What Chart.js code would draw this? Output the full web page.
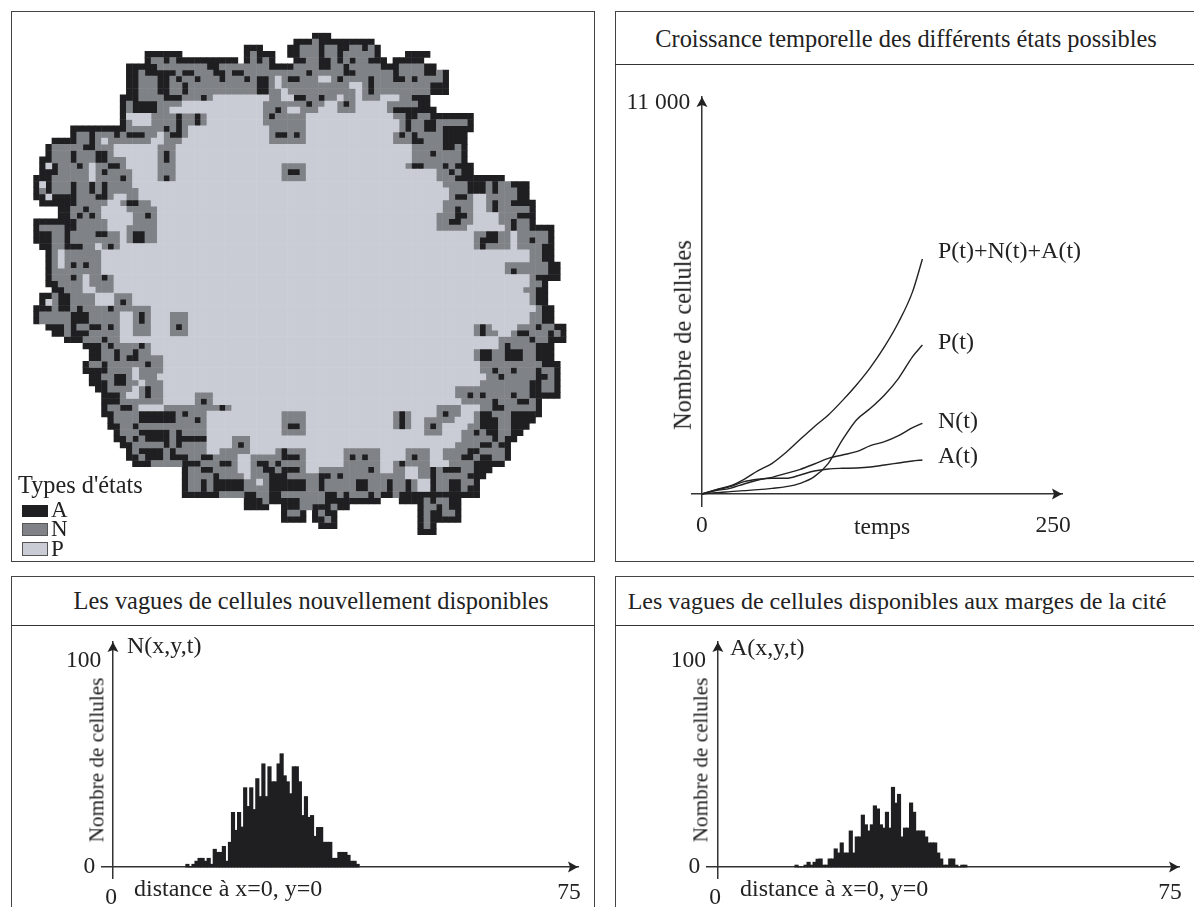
<!DOCTYPE html>
<html lang="fr">
<head>
<meta charset="utf-8">
<title>Croissance de la cité</title>
<script src="https://cdn.jsdelivr.net/npm/chart.js@4"></script>
<style>
  html, body { margin: 0; background: #fff; }
  body { position: relative; width: 1194px; height: 907px; overflow: hidden;
         font-family: "Liberation Serif", serif; color: #222; }
  .panel { position: absolute; box-sizing: border-box; border: 1.4px solid #444; }
  .rule { position: absolute; height: 0; border-top: 1.4px solid #333; }
  canvas { position: absolute; }
  .txt { position: absolute; white-space: nowrap; line-height: 1; transform: translateY(-50%); font-size: 24px; }
  .mid { transform: translate(-50%, -50%); }
  .up { transform: translate(-50%, -50%) rotate(-90deg); }
  .swatch { position: absolute; box-sizing: border-box; width: 26px; }
</style>
</head>
<body>

<div class="panel" style="left:11px;top:11px;width:584px;height:551px"></div>
<div class="panel" style="left:615px;top:11px;width:600px;height:551px"></div>
<div class="rule" style="left:615px;top:64px;width:579px"></div>
<div class="panel" style="left:11px;top:576px;width:584px;height:360px"></div>
<div class="rule" style="left:11px;top:625px;width:584px"></div>
<div class="panel" style="left:615px;top:576px;width:600px;height:360px"></div>
<div class="rule" style="left:615px;top:625px;width:579px"></div>

<canvas id="carte" width="560" height="530" style="left:20px;top:20px"></canvas>
<canvas id="croissance" width="579" height="497" style="left:615px;top:64px"></canvas>
<canvas id="vagueN" width="584" height="282" style="left:11px;top:625px"></canvas>
<canvas id="vagueA" width="579" height="282" style="left:615px;top:625px"></canvas>

<div class="txt mid" style="left:906px;top:39px;font-size:24.4px">Croissance temporelle des différents états possibles</div>
<div class="txt mid" style="left:311px;top:601px;font-size:24.4px">Les vagues de cellules nouvellement disponibles</div>
<div class="txt mid" style="left:897px;top:601px;font-size:24px">Les vagues de cellules disponibles aux marges de la cité</div>

<div class="txt" style="left:18px;top:485px;font-size:24.3px">Types d'états</div>
<div class="swatch" style="left:22px;top:505px;height:12px;background:#1f1f21"></div>
<div class="swatch" style="left:22px;top:523px;height:13px;background:#7f8286;border:1px solid #555"></div>
<div class="swatch" style="left:22px;top:542px;height:14px;background:#c9ccd4;border:1px solid #555"></div>
<div class="txt" style="left:51px;top:509px;font-size:23px">A</div>
<div class="txt" style="left:51px;top:528px;font-size:23px">N</div>
<div class="txt" style="left:51px;top:548px;font-size:23px">P</div>

<div class="txt up" style="left:683px;top:335px;font-size:24.4px">Nombre de cellules</div>
<div class="txt mid" style="left:882px;top:527px;font-size:23.5px">temps</div>
<div class="txt" style="left:938px;top:250px">P(t)+N(t)+A(t)</div>
<div class="txt" style="left:938px;top:341px">P(t)</div>
<div class="txt" style="left:938px;top:420px">N(t)</div>
<div class="txt" style="left:938px;top:455px">A(t)</div>

<div class="txt up" style="left:97px;top:760px;font-size:21.2px">Nombre de cellules</div>
<div class="txt" style="left:127px;top:645px">N(x,y,t)</div>
<div class="txt" style="left:134px;top:888px">distance à x=0, y=0</div>
<div class="txt mid" style="left:111px;top:897px;font-size:23.5px">0</div>

<div class="txt up" style="left:701px;top:760px;font-size:21.2px">Nombre de cellules</div>
<div class="txt" style="left:730px;top:647px">A(x,y,t)</div>
<div class="txt" style="left:740px;top:888px">distance à x=0, y=0</div>
<div class="txt mid" style="left:715px;top:897px;font-size:23.5px">0</div>

<script>
"use strict";

// carte : une ligne par rangée, "12A" = à partir de la colonne 12 état A ("." = vide)
const mapRows = [
  "45A 48.",
  "42A 45N 46A 55.",
  "34A 37. 41A 43N 46A 47N 49A 51N 53A 54N 55A 56.",
  "18A 24. 34A 35N 36A 39. 41A 43N 46A 47N 49A 50N 54N 55A 56. 60A 64.",
  "18A 19N 21A 22N 23A 33. 34A 35N 36A 37N 38A 39. 42A 44N 46A 48N 49A 50N 51A 52N 54A 57. 58A 63.",
  "15A 20N 28A 30N 38A 42N 46A 48N 50A 51N 56A 59N 63A 65.",
  "15A 17N 18A 23N 24A 26N 29A 31N 32A 34N 44A 45N 50A 52N 58A 59N 63A 65N 66A 67.",
  "15A 17N 20A 22N 23A 24N 26A 27N 30A 31N 34A 35N 36A 38N 39P 40N 41A 43N 46P 48N 49A 50N 54A 55N 58A 60N 61A 62N 66A 67.",
  "15A 17N 20A 22N 24A 25N 36A 38N 39P 40N 51P 53N 54A 55N 64A 67.",
  "15A 17N 20A 22N 24A 25N 36A 38N 40P 41N 52P 53N 54A 55N 64A 67.",
  "14A 17N 21A 24N 27A 28N 29P 38N 40P 42A 44N 46A 47N 49P 50N 52P 53N 56P 59N 61A 64.",
  "14A 15N 16A 20N 24P 37N 44A 45N 47P 49N 50A 51N 52P 57N 62A 64.",
  "14A 15N 16A 20N 22P 37N 39A 40N 41P 43N 46P 49N 52P 57N 58A 65.",
  "14A 15P 19N 23A 24N 26A 27N 28P 37N 38A 39N 44P 58N 60A 62N 64A 71.",
  "14A 15N 16P 19N 23A 24N 26A 27N 28P 37N 44P 59N 60A 61N 63A 65N 70A 71.",
  "6A 15N 21A 22N 23A 24N 25P 38N 44P 59N 60A 61N 63A 65N 66A 71.",
  "6A 7N 9A 10N 13A 14N 15A 18N 20P 21N 22A 24N 25P 38N 39A 41N 42A 43N 44P 58N 59A 60N 61A 62N 66A 70.",
  "3A 7N 9A 10N 11P 12N 19P 21N 24P 38N 44P 58N 61A 63N 66A 70.",
  "2A 3N 8A 10N 13P 20N 23P 61N 66A 68N 69A 70.",
  "2A 3N 6A 7N 10A 12N 13P 20N 21A 22N 23P 61N 64A 65N 69A 70.",
  "1A 3N 6A 7N 10A 12N 15P 20N 21A 22N 23P 61N 69A 70.",
  "1A 2P 3A 4N 7A 8N 9P 10N 12A 14N 15P 20N 23P 40N 44P 60N 61A 63N 66A 67N 68A 71.",
  "1A 4N 9P 10N 11A 12N 16P 20N 23P 40N 41A 43N 44P 65N 67A 68N 69A 71.",
  "0A 3N 9P 10N 14A 15N 16P 20N 21A 22N 23P 40N 44P 65N 68A 76.",
  "0A 1P 2A 3N 6A 7N 9A 10N 11A 12N 16P 66N 70A 73N 74A 75N 77A 80.",
  "0A 1N 2A 3N 6A 7N 9A 10N 11A 12N 17P 67N 70A 73N 74A 75N 78A 80.",
  "0A 2P 3A 7N 10A 12N 13P 15N 17P 67N 68A 70N 71P 73N 78A 80.",
  "1A 7N 12P 14N 15A 17N 19P 66N 71P 73N 74A 75N 77A 81.",
  "4A 6N 8A 9N 11P 15N 20P 66N 68A 69N 71P 73N 74A 75N 80A 81.",
  "4A 6N 7A 8N 9A 10N 11P 16N 18A 19N 20P 65N 68A 70N 71P 75N 78A 81.",
  "0A 7N 12P 16N 20P 65N 67A 69N 71P 75N 77A 78N 80A 81.",
  "0A 1N 5A 7N 12P 15N 20P 65N 70P 76N 77A 78N 80A 84.",
  "0A 3N 5A 6N 10A 12N 14P 15N 16A 18N 20P 71N 73A 75N 77P 78N 83A 84.",
  "0A 3N 5A 6N 14P 15N 16A 18N 20P 71N 72A 75N 77P 78N 80A 81N 83A 84.",
  "1A 3N 5A 8N 10P 11N 12A 13N 14P 71N 72A 73N 77P 78N 82A 84.",
  "2A 3N 4P 5N 11P 80N 82A 84.",
  "2A 3N 4P 5N 11P 80N 82A 84.",
  "2A 3N 4P 5N 6A 7N 8A 9N 11P 76N 83A 85.",
  "2A 3N 11P 76N 77A 78N 83A 85.",
  "2A 3N 6A 7N 8P 9N 11A 12N 13P 80N 81A 85.",
  "2A 4N 8P 9N 13P 80N 82A 83.",
  "3A 5N 8P 10N 13P 79N 81A 83.",
  "1A 3N 4A 6N 10P 13N 16P 80N 81A 83.",
  "1A 2P 3N 4A 6N 10P 13N 14A 15N 16P 80N 81A 83.",
  "0A 3N 4A 6N 7A 8N 12A 13N 19P 81N 82A 84.",
  "0A 1N 6A 9N 14P 16N 17A 18N 19P 22N 25P 80N 82A 84.",
  "0A 1N 6A 9N 14P 16N 17A 18N 19P 22N 25P 80N 82A 84.",
  "2A 5N 6A 7N 9A 11N 12A 13N 14P 16N 19P 22N 23A 24N 25P 71N 72A 73N 74P 78N 81A 82N 84A 86.",
  "3A 5N 6A 9N 14P 16N 19P 22N 25P 71N 72A 73N 75P 77N 78A 80N 83A 84N 85A 86.",
  "5A 8N 11A 12N 14P 75N 80A 81N 83A 86.",
  "8A 11N 12A 13N 17A 18N 19P 75N 76A 77N 81A 84.",
  "9A 11N 13A 14N 16A 17N 19P 71N 72A 74N 76A 79N 81A 84.",
  "9A 11N 13A 14N 15A 17N 21P 71N 72A 74N 76A 79N 81A 84.",
  "8A 9N 11A 12N 18A 19N 21P 72N 82A 85.",
  "8A 12N 16P 17N 21P 72N 74A 75N 77A 78N 81A 82N 84A 85.",
  "9A 11N 13A 15N 16P 17N 20P 73N 75A 76N 81A 83N 84A 85.",
  "9A 12N 13A 15N 17P 18N 21P 72N 80A 82N 84A 85.",
  "10A 12N 16P 17N 18A 19N 21P 68N 80A 82N 84A 85.",
  "11A 14N 15P 17N 18A 19N 21P 26N 29P 68N 70A 71N 72A 73N 77A 78N 80A 85.",
  "11A 14N 21P 26N 27A 28N 29P 69N 74A 75N 78A 80N 81A 82.",
  "11A 12N 14A 16N 17P 21N 30A 31N 32P 65N 69P 72N 74A 76N 81A 82.",
  "11A 13N 17A 23N 24A 25N 28P 40N 44P 58N 59A 60N 61P 65N 66A 67N 69P 71N 72A 74N 77A 82.",
  "12A 13N 17A 23N 26A 27N 28P 40N 44P 58N 59A 60N 61P 63N 68P 71N 72A 75N 77A 81.",
  "12A 14N 16A 17N 28P 40N 41A 43N 44P 58N 59A 60N 61P 63N 64A 65N 66P 70N 72A 75N 77A 80.",
  "13A 14N 17A 22N 23A 24N 28P 40N 44P 63N 66P 69N 71A 72N 73A 75N 77A 79.",
  "13A 15N 16A 17N 18A 22N 23A 28P 32N 35P 69N 74A 75N 76A 78.",
  "14A 16N 21A 22N 23A 24N 28P 32N 33A 34N 35P 68N 72A 74N 75A 77.",
  "15A 16N 17A 21N 22A 23N 28P 30N 35P 39N 40A 41N 44P 50N 56P 60N 64P 66N 70A 72N 76A 77.",
  "15A 17N 18A 21N 22A 25N 27A 29N 33P 35N 40A 43N 44P 50N 51A 52N 53A 54N 56P 60N 61A 62N 64P 66N 69A 71N 72A 74N 76A 77.",
  "16A 19N 24A 27N 30A 32N 33P 35N 36A 38N 39A 40N 44P 50N 56P 58N 59A 60N 64P 67N 71A 76.",
  "24A 25N 27A 29N 33P 35N 37A 39N 40A 43N 44P 46N 54A 55N 56P 58N 60P 62N 64A 65N 66A 69N 71A 74.",
  "24A 25N 29A 30N 34P 35N 38A 41N 46A 48N 49A 50N 60P 62N 64A 65N 70A 73.",
  "24A 25N 27A 28N 29A 34N 36P 37N 38A 44N 46A 47N 52A 54N 57A 58N 60A 61N 62P 64A 65N 67A 69N 71A 72.",
  "24A 25N 27A 28N 29A 34N 38A 44N 46A 47N 52A 54N 57A 58N 60A 61N 62P 64A 65N 67A 69N 70A 72.",
  "24A 30N 34A 36N 38A 40N 47A 49N 50A 51N 54A 55N 56A 58N 59A 72.",
  "34A 37N 38A 43N 47A 56. 59A 63N 64A 65N 67A 69.",
  "34A 38. 40A 43N 45A 48N 49A 51. 62A 63N 65A 66N 67A 69.",
  "40A 41N 43A 44. 45A 46N 47A 49. 62A 63N 64A 66N 68A 69.",
  "40A 44. 45A 47N 48A 49. 62A 63N 64A 69.",
  "46A 49. 62A 63N 64A 65.",
  "62A 65."
];

// courbes de croissance
const temps = [0, 10, 20, 30, 40, 50, 60, 70, 80, 90, 100, 110, 120, 130, 140, 150, 157];
const totalT = [0, 122, 225, 413, 656, 863, 1172, 1538, 1894, 2223, 2626, 3067, 3563, 4145, 4830, 5693, 6611];
const presT = [0, 38, 66, 94, 122, 159, 206, 300, 488, 863, 1519, 2082, 2410, 2785, 3254, 3864, 4192];
const nouvT = [0, 94, 159, 281, 394, 469, 581, 694, 844, 1003, 1097, 1191, 1360, 1472, 1641, 1866, 1988];
const dispoT = [0, 113, 206, 347, 413, 441, 441, 534, 647, 703, 722, 731, 759, 816, 872, 928, 956];

// histogrammes, classes de largeur 0,5
const debutN = 12;
const vagueN = [1.4, 0.2, 1.4, 2.9, 4.3, 4.3, 2.9, 4.3, 1.4, 8.7, 7.2, 7.2, 10.1, 2.9, 12.1, 26.6, 17.9, 26.6, 19.5,
  38.6, 29.5, 38.6, 28, 43, 34.3, 50.2, 34.3, 48.8, 41.5, 41.5, 50.2, 55.1, 44.4, 41.5, 35.7, 48.8, 48.8, 41.5,
  25.1, 34.3, 24.2, 25.1, 15, 19.3, 19.3, 12.1, 12.1, 12.1, 4.3, 4.3, 7.2, 7.2, 7.2, 5.8, 2.9, 2.9, 1.4];
const debutA = 12.8;
const vagueA = [1, 0, 0, 1, 2.4, 1, 2.4, 3.9, 4, 1, 1, 4, 4, 8.9, 6.9, 11.8, 6.9, 6.9, 17.6, 6.9, 14.7, 14.7,
  25.3, 20.6, 17.6, 20.6, 29.8, 28.3, 20.6, 19, 26.7, 19, 38.8, 31.1, 35.4, 14.7, 19, 19, 31.2, 26.7, 17.6,
  17.6, 17.6, 14.7, 11.8, 11.8, 11.8, 6.9, 4, 1, 1, 4, 4, 1, 0, 1, 1];

const ticksTemps = [0, 250];
const ticksCellules = [11000];
const ticksDistance = [75];
const ticksVague = [0, 100];

const NOIR = "#1f1f21";
const GRIS = "#7f8286";
const CLAIR = "#c9ccd4";
const POLICE = "Liberation Serif";

function lireCarte() {
  const cases = { P: [], N: [], A: [] };
  mapRows.forEach((rangee, r) => {
    const morceaux = rangee.split(" ");
    morceaux.forEach((m, i) => {
      const etat = m.slice(-1);
      if (etat === ".") return;
      const fin = parseInt(morceaux[i + 1]);
      for (let c = parseInt(m); c < fin; c++) {
        cases[etat].push({ x: c + 0.5, y: r + 0.5 });
      }
    });
  });
  return cases;
}

// flèches au bout des deux axes
const fleches = {
  id: "fleches",
  afterDraw(chart) {
    const { ctx, chartArea, scales } = chart;
    const y0 = scales.y.getPixelForValue(0);
    const x0 = scales.x.getPixelForValue(0);
    ctx.save();
    ctx.fillStyle = "#222";
    ctx.beginPath();
    ctx.moveTo(chartArea.right, y0);
    ctx.lineTo(chartArea.right - 10, y0 - 5.5);
    ctx.lineTo(chartArea.right - 8, y0);
    ctx.lineTo(chartArea.right - 10, y0 + 5.5);
    ctx.closePath();
    ctx.fill();
    ctx.beginPath();
    ctx.moveTo(x0, chartArea.top);
    ctx.lineTo(x0 - 5.5, chartArea.top + 10);
    ctx.lineTo(x0, chartArea.top + 8);
    ctx.lineTo(x0 + 5.5, chartArea.top + 10);
    ctx.closePath();
    ctx.fill();
    ctx.restore();
  }
};

function axes(opt) {
  const base = {
    grid: { display: false, drawTicks: false },
    border: { color: "#333", width: 1.5 },
    afterFit(scale) {
      if (scale.isHorizontal()) scale.height = 0;
      else scale.width = 0;
    }
  };
  return {
    x: {
      ...base,
      type: "linear",
      offset: false,
      position: { y: 0 },
      min: opt.xMin,
      max: opt.xMax,
      afterBuildTicks(scale) { scale.ticks = opt.xTicks.map((v) => ({ value: v })); },
      ticks: { autoSkip: false, maxRotation: 0, padding: opt.xPad, color: "#222", font: { family: POLICE, size: 23.5 } }
    },
    y: {
      ...base,
      type: "linear",
      position: { x: 0 },
      min: opt.yMin,
      max: opt.yMax,
      afterBuildTicks(scale) { scale.ticks = opt.yTicks.map((v) => ({ value: v })); },
      ticks: {
        autoSkip: false,
        color: "#222",
        font: { family: POLICE, size: 23.5 },
        // la marge des étiquettes n'est pas appliquée sur un axe positionné
        callback: (v) => String(v).replace(/(\d)(\d{3})$/, "$1 $2") + (v === 0 ? "\u00a0\u00a0\u00a0" : "\u00a0\u00a0")
      }
    }
  };
}

function carte() {
  const cases = lireCarte();
  new Chart(document.getElementById("carte"), {
    type: "scatter",
    data: {
      datasets: [
        { label: "P", data: cases.P, backgroundColor: CLAIR },
        { label: "N", data: cases.N, backgroundColor: GRIS },
        { label: "A", data: cases.A, backgroundColor: NOIR }
      ]
    },
    options: {
      responsive: false,
      animation: false,
      events: [],
      layout: { padding: { left: 13.3, top: 12.7, right: 13.5, bottom: 15.1 } },
      elements: { point: { pointStyle: "rect", radius: 4.75, borderWidth: 0 } },
      plugins: { legend: { display: false }, tooltip: { enabled: false } },
      scales: {
        x: { type: "linear", display: false, min: 0, max: 86 },
        y: { type: "linear", display: false, min: 0, max: 81, reverse: true }
      }
    }
  });
}

function croissance() {
  const serie = (nom, vals) => ({
    label: nom,
    data: vals.map((v, i) => ({ x: temps[i], y: v })),
    borderColor: "#222",
    borderWidth: 1.4,
    pointRadius: 0,
    cubicInterpolationMode: "monotone",
    showLine: true
  });
  new Chart(document.getElementById("croissance"), {
    type: "scatter",
    data: {
      datasets: [
        serie("P(t)+N(t)+A(t)", totalT),
        serie("P(t)", presT),
        serie("N(t)", nouvT),
        serie("A(t)", dispoT)
      ]
    },
    options: {
      responsive: false,
      animation: false,
      events: [],
      layout: { padding: { left: 77, right: 132, top: 33, bottom: 55 } },
      plugins: { legend: { display: false }, tooltip: { enabled: false } },
      scales: axes({
        xMin: -7.1, xMax: 256.4, xTicks: ticksTemps, xPad: 18,
        yMin: -338, yMax: 11168, yTicks: ticksCellules
      })
    },
    plugins: [fleches]
  });
}

function vague(id, debut, valeurs, gauche, droite) {
  new Chart(document.getElementById(id), {
    type: "bar",
    data: {
      datasets: [{
        data: valeurs.map((v, i) => ({ x: debut + 0.25 + i * 0.5, y: v })),
        backgroundColor: NOIR,
        barThickness: 3.5
      }]
    },
    options: {
      responsive: false,
      animation: false,
      events: [],
      layout: { padding: { left: gauche, right: droite, top: 15.7, bottom: 29 } },
      plugins: { legend: { display: false }, tooltip: { enabled: false } },
      scales: axes({
        xMin: -1.8, xMax: 76.5, xTicks: ticksDistance, xPad: 12,
        yMin: -5.3, yMax: 109.3, yTicks: ticksVague
      })
    },
    plugins: [fleches]
  });
}

carte();
croissance();
vague("vagueN", debutN, vagueN, 91, 17);
vague("vagueA", debutA, vagueA, 92, 12.3);
</script>
</body>
</html>
